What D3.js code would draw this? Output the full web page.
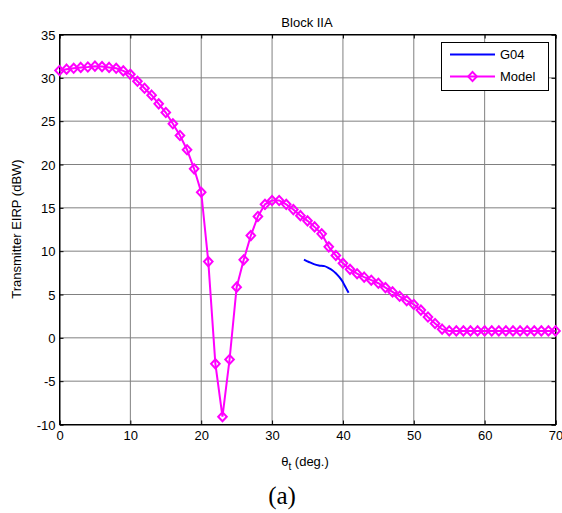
<!DOCTYPE html>
<html><head><meta charset="utf-8">
<script src="https://cdn.jsdelivr.net/npm/d3@7"></script>
<style>body{margin:0;background:#fff}svg{display:block}</style>
</head><body>
<svg id="c" width="562" height="513"></svg>
<script>
const modelX = d3.range(0, 71);
const modelY = [30.85,31.0,31.1,31.2,31.25,31.35,31.3,31.2,31.1,30.8,
  30.4,29.6,28.8,28.0,27.0,26.0,24.7,23.35,21.7,19.5,
  16.8,8.8,-3.0,-9.1,-2.5,5.85,9.0,11.8,14.0,15.4,
  15.85,15.85,15.4,14.8,14.1,13.5,12.8,12.0,10.5,9.5,
  8.6,7.9,7.4,7.0,6.65,6.3,5.8,5.3,4.8,4.3,
  3.85,3.2,2.4,1.65,1.0,0.8,0.8,0.8,0.8,0.8,
  0.8,0.8,0.8,0.8,0.8,0.8,0.8,0.8,0.8,0.8,0.8];
const g04X = [34.5,35.2,35.9,36.6,37.4,38.0,38.5,39.0,39.5,39.9,40.2,40.5,40.8];
const g04Y = [9.03,8.75,8.5,8.35,8.27,8.05,7.8,7.45,7.0,6.55,6.1,5.65,5.2];
const xTicks = [0,10,20,30,40,50,60,70];
const yTicks = [-10,-5,0,5,10,15,20,25,30,35];

const svg = d3.select("#c");
const L=59.5,R=555.5,T=34.5,B=424.5;
const x = d3.scaleLinear().domain([0,70]).range([L,R]);
const y = d3.scaleLinear().domain([-10,35]).range([B,T]);
const font = "Liberation Sans, Arial, sans-serif";
const fs = "13px";

// grid
const g = svg.append("g");
g.selectAll(".gx").data(xTicks.slice(1,-1)).join("line")
  .attr("x1",d=>x(d)).attr("x2",d=>x(d)).attr("y1",T).attr("y2",B)
  .attr("stroke","#808080").attr("stroke-width",1);
g.selectAll(".gy").data(yTicks.slice(1,-1)).join("line")
  .attr("y1",d=>y(d)).attr("y2",d=>y(d)).attr("x1",L).attr("x2",R)
  .attr("stroke","#808080").attr("stroke-width",1);

// axes
const fmt = d => String(d);
const ax = svg.append("g").attr("transform",`translate(0,${B})`)
  .call(d3.axisBottom(x).tickValues(xTicks).tickSize(-4).tickPadding(6).tickFormat(fmt));
const ay = svg.append("g").attr("transform",`translate(${L},0)`)
  .call(d3.axisLeft(y).tickValues(yTicks).tickSize(-4).tickPadding(4).tickFormat(fmt));
svg.append("g").attr("transform",`translate(0,${T})`)
  .call(d3.axisTop(x).tickValues(xTicks).tickSize(-4).tickFormat(""));
svg.append("g").attr("transform",`translate(${R},0)`)
  .call(d3.axisRight(y).tickValues(yTicks).tickSize(-4).tickFormat(""));
svg.selectAll(".domain").attr("stroke","#000");
svg.selectAll(".tick line").attr("stroke","#000");
svg.selectAll(".tick text").attr("font-family",font).attr("font-size",fs).attr("fill","#000");
ay.selectAll(".tick text").attr("dy","0.35em");
svg.append("rect").attr("x",L).attr("y",T).attr("width",R-L).attr("height",B-T)
  .attr("fill","none").attr("stroke","#000").attr("stroke-width",1);

// model line
const mData = modelX.map((d,i)=>[d,modelY[i]]);
const line = d3.line().x(d=>x(d[0])).y(d=>y(d[1]));
svg.append("path").datum(mData).attr("d",line).attr("fill","none")
  .attr("stroke","#ff00ff").attr("stroke-width",2);
const dia = (cx,cy)=>`M${cx},${cy-4.6}L${cx+4.3},${cy}L${cx},${cy+4.6}L${cx-4.3},${cy}Z`;
svg.append("g").selectAll("path").data(mData).join("path")
  .attr("d",d=>dia(x(d[0]),y(d[1]))).attr("fill","none")
  .attr("stroke","#ff00ff").attr("stroke-width",2);

// G04 line
const gData = g04X.map((d,i)=>[d,g04Y[i]]);
svg.append("path").datum(gData).attr("d",d3.line().curve(d3.curveCatmullRom).x(d=>x(d[0])).y(d=>y(d[1])))
  .attr("fill","none").attr("stroke","#0000ff").attr("stroke-width",2);

// legend
const lg = svg.append("g");
lg.append("rect").attr("x",441.5).attr("y",42.5).attr("width",107).attr("height",48)
  .attr("fill","#fff").attr("stroke","#000").attr("stroke-width",1);
lg.append("line").attr("x1",450).attr("x2",495).attr("y1",54.5).attr("y2",54.5)
  .attr("stroke","#0000ff").attr("stroke-width",2);
lg.append("line").attr("x1",450).attr("x2",495).attr("y1",76.5).attr("y2",76.5)
  .attr("stroke","#ff00ff").attr("stroke-width",2);
lg.append("path").attr("d",dia(472.5,76.5)).attr("fill","none").attr("stroke","#ff00ff").attr("stroke-width",2);
lg.append("text").attr("x",500).attr("y",59).text("G04")
  .attr("font-family",font).attr("font-size",fs);
lg.append("text").attr("x",500).attr("y",81).text("Model")
  .attr("font-family",font).attr("font-size",fs);

// titles
svg.append("text").attr("x",307).attr("y",27).attr("text-anchor","middle")
  .attr("font-family",font).attr("font-size",fs).text("Block IIA");
const xl = svg.append("text").attr("x",305).attr("y",466).attr("text-anchor","middle")
  .attr("font-family",font).attr("font-size",fs);
xl.append("tspan").text("θ");
xl.append("tspan").attr("dy",4).attr("font-size","10px").text("t");
xl.append("tspan").attr("dy",-4).text(" (deg.)");
svg.append("text").attr("transform","translate(21,229) rotate(-90)").attr("text-anchor","middle")
  .attr("font-family",font).attr("font-size",fs).text("Transmitter EIRP (dBW)");
svg.append("text").attr("x",282).attr("y",504).attr("text-anchor","middle")
  .attr("font-family","Liberation Serif, Times New Roman, serif").attr("font-size","25px").text("(a)");
</script>
</body></html>
